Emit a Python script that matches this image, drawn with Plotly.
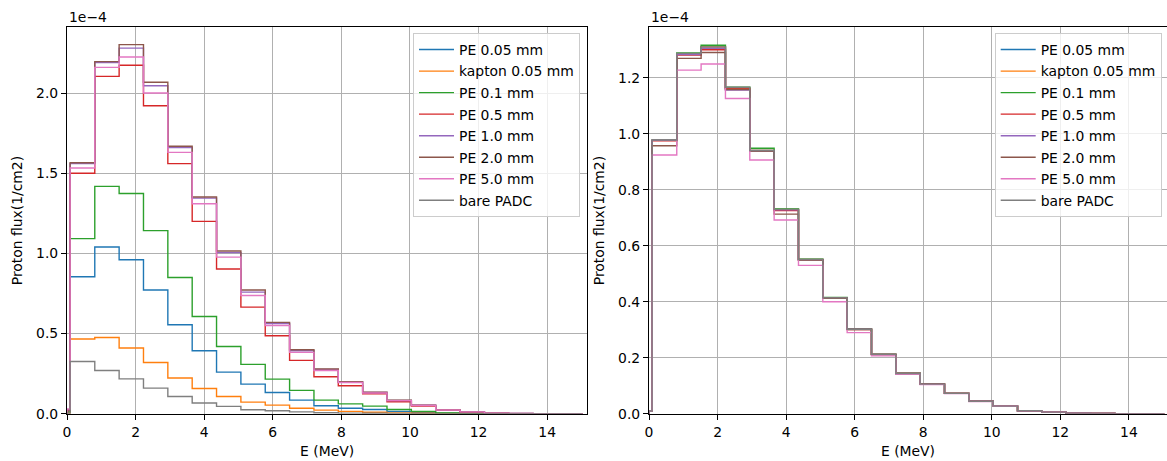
import plotly.graph_objects as go

# Energy bin edges (MeV) of the proton spectra
bin_edges = [0.0, 0.09, 0.81, 1.52, 2.23, 2.94, 3.65, 4.36, 5.07, 5.78, 6.49,
             7.20, 7.91, 8.62, 9.33, 10.04, 10.75, 11.46, 12.17, 12.88, 13.59,
             14.30, 15.01]

labels = ["PE 0.05 mm", "kapton 0.05 mm", "PE 0.1 mm", "PE 0.5 mm",
          "PE 1.0 mm", "PE 2.0 mm", "PE 5.0 mm", "bare PADC"]
colors = ["#1f77b4", "#ff7f0e", "#2ca02c", "#d62728",
          "#9467bd", "#8c564b", "#e377c2", "#7f7f7f"]

# Proton flux per bin, in units of 1e-4 /cm2 -- left panel
left_pe005 = [0.010, 0.855, 1.040, 0.961, 0.772, 0.555, 0.393, 0.260, 0.185, 0.133, 0.085,
              0.050, 0.035, 0.027, 0.015, 0.008, 0.004, 0.002, 0.001, 0.0005, 0.0002, 0.0001]
left_kapton = [0.005, 0.466, 0.476, 0.410, 0.320, 0.223, 0.158, 0.108, 0.073, 0.054, 0.035,
               0.023, 0.015, 0.010, 0.006, 0.003, 0.0015, 0.0008, 0.0004, 0.0002, 0.0001, 0.0]
left_pe01 = [0.012, 1.092, 1.418, 1.374, 1.142, 0.850, 0.607, 0.420, 0.308, 0.216, 0.146,
             0.085, 0.062, 0.048, 0.027, 0.015, 0.006, 0.003, 0.001, 0.0005, 0.0002, 0.0001]
left_pe05 = [0.020, 1.500, 2.104, 2.173, 1.921, 1.560, 1.200, 0.903, 0.665, 0.487, 0.333,
             0.231, 0.175, 0.125, 0.075, 0.048, 0.022, 0.010, 0.003, 0.001, 0.0005, 0.0002]
left_pe10 = [0.025, 1.560, 2.190, 2.280, 2.046, 1.660, 1.345, 1.005, 0.759, 0.562, 0.393,
             0.276, 0.197, 0.133, 0.083, 0.053, 0.025, 0.012, 0.004, 0.0015, 0.0005, 0.0002]
left_pe20 = [0.025, 1.565, 2.196, 2.302, 2.067, 1.668, 1.352, 1.015, 0.772, 0.570, 0.399,
             0.279, 0.200, 0.135, 0.085, 0.054, 0.025, 0.012, 0.004, 0.0015, 0.0005, 0.0002]
left_pe50 = [0.030, 1.533, 2.160, 2.225, 2.000, 1.630, 1.310, 0.977, 0.738, 0.551, 0.383,
             0.270, 0.195, 0.130, 0.082, 0.052, 0.024, 0.012, 0.004, 0.0015, 0.0005, 0.0002]
left_bare = [0.003, 0.326, 0.270, 0.218, 0.160, 0.108, 0.067, 0.046, 0.025, 0.019, 0.012,
             0.007, 0.004, 0.003, 0.002, 0.001, 0.0005, 0.0002, 0.0001, 0.0, 0.0, 0.0]

# Proton flux per bin, in units of 1e-4 /cm2 -- right panel
right_pe005 = [0.010, 0.977, 1.285, 1.310, 1.163, 0.940, 0.730, 0.551, 0.414, 0.302, 0.212,
               0.144, 0.106, 0.073, 0.045, 0.0275, 0.011, 0.006, 0.002, 0.001, 0.0005, 0.0002]
right_kapton = [0.010, 0.977, 1.285, 1.310, 1.163, 0.940, 0.730, 0.551, 0.414, 0.302, 0.212,
                0.144, 0.106, 0.073, 0.045, 0.0275, 0.011, 0.006, 0.002, 0.001, 0.0005, 0.0002]
right_pe01 = [0.010, 0.977, 1.288, 1.316, 1.166, 0.948, 0.731, 0.552, 0.415, 0.303, 0.213,
              0.145, 0.106, 0.073, 0.045, 0.0275, 0.011, 0.006, 0.002, 0.001, 0.0005, 0.0002]
right_pe05 = [0.010, 0.975, 1.281, 1.300, 1.160, 0.939, 0.726, 0.550, 0.413, 0.301, 0.212,
              0.144, 0.106, 0.073, 0.045, 0.0275, 0.011, 0.006, 0.002, 0.001, 0.0005, 0.0002]
right_pe10 = [0.010, 0.977, 1.283, 1.305, 1.156, 0.939, 0.728, 0.550, 0.413, 0.302, 0.212,
              0.144, 0.106, 0.073, 0.045, 0.0275, 0.011, 0.006, 0.002, 0.001, 0.0005, 0.0002]
right_pe20 = [0.010, 0.957, 1.269, 1.290, 1.158, 0.938, 0.713, 0.549, 0.412, 0.301, 0.211,
              0.144, 0.106, 0.073, 0.045, 0.0275, 0.011, 0.006, 0.002, 0.001, 0.0005, 0.0002]
right_pe50 = [0.010, 0.924, 1.227, 1.249, 1.126, 0.906, 0.692, 0.530, 0.400, 0.290, 0.207,
              0.141, 0.104, 0.072, 0.044, 0.027, 0.011, 0.006, 0.002, 0.001, 0.0005, 0.0002]
right_bare = [0.010, 0.977, 1.287, 1.310, 1.166, 0.940, 0.730, 0.551, 0.414, 0.302, 0.212,
              0.144, 0.106, 0.073, 0.045, 0.0275, 0.011, 0.006, 0.002, 0.001, 0.0005, 0.0002]

left_series = [left_pe005, left_kapton, left_pe01, left_pe05,
               left_pe10, left_pe20, left_pe50, left_bare]
right_series = [right_pe005, right_kapton, right_pe01, right_pe05,
                right_pe10, right_pe20, right_pe50, right_bare]

W, H = 1167, 461
FONT = "DejaVu Sans"
FS = 13.9


def step_xy(edges, values):
    # outline of a step histogram: rise at the first edge, drop at the last
    return [edges[0]] + list(edges), [0.0] + list(values) + [0.0]


fig = go.Figure()

for panel, series_set, xa, ya, leg in [
    ("L", left_series, "x", "y", "legend"),
    ("R", right_series, "x2", "y2", "legend2"),
]:
    for i, (name, col, vals) in enumerate(zip(labels, colors, series_set)):
        xs, ys = step_xy(bin_edges, vals)
        fig.add_trace(go.Scatter(
            x=xs, y=ys, mode="lines", name=name,
            line=dict(color=col, width=1.4, shape="hv"),
            xaxis=xa, yaxis=ya, legend=leg,
            legendgroup=f"{panel}{i}",
        ))

axis_common = dict(
    showgrid=True, gridcolor="#b0b0b0", gridwidth=1.1,
    zeroline=False, showline=True, linecolor="black", linewidth=1.1,
    ticks="outside", ticklen=5, tickwidth=1.1, tickcolor="black",
    tickfont=dict(family=FONT, size=FS, color="black"),
    automargin=False,
)

x_left = [67 / W, 587.3 / W]
x_right = [649 / W, 1.0]
y_dom = [(H - 413.8) / H, (H - 27.3) / H]

xticks = [0, 2, 4, 6, 8, 10, 12, 14]

fig.update_layout(
    width=W, height=H,
    margin=dict(l=0, r=0, t=0, b=0, autoexpand=False),
    paper_bgcolor="white", plot_bgcolor="white",
    font=dict(family=FONT, size=FS, color="black"),
    showlegend=True,
    xaxis=dict(domain=x_left, range=[0, 15.17], tickvals=xticks, mirror=True,
               anchor="y",
               title=dict(text="E (MeV)", standoff=7,
                          font=dict(family=FONT, size=FS, color="black")),
               **axis_common),
    yaxis=dict(domain=y_dom, range=[0, 2.41], dtick=0.5, tickformat=".1f",
               mirror=True, anchor="x",
               title=dict(text="Proton flux(1/cm2)", standoff=10,
                          font=dict(family=FONT, size=FS, color="black")),
               **axis_common),
    xaxis2=dict(domain=x_right, range=[0, 15.11], tickvals=xticks, mirror=True,
                anchor="y2",
                title=dict(text="E (MeV)", standoff=7,
                           font=dict(family=FONT, size=FS, color="black")),
                **axis_common),
    yaxis2=dict(domain=y_dom, range=[0, 1.38], dtick=0.2, tickformat=".1f",
                mirror=False, anchor="x2",
                title=dict(text="Proton flux(1/cm2)", standoff=10,
                           font=dict(family=FONT, size=FS, color="black")),
                **axis_common),
)

legend_common = dict(
    xanchor="right", yanchor="top", xref="paper", yref="paper",
    bgcolor="rgba(255,255,255,0.8)", bordercolor="#cccccc", borderwidth=1,
    font=dict(family=FONT, size=FS, color="black"),
    traceorder="grouped", tracegroupgap=0.47, itemwidth=35,
)
fig.update_layout(
    legend=dict(x=580 / W, y=(H - 33) / H, **legend_common),
    legend2=dict(x=1161.7 / W, y=(H - 33) / H, **legend_common),
)

# scale factor labels above each panel
for x0 in (67, 649):
    fig.add_annotation(
        x=x0 / W, y=(H - 17.3) / H, xref="paper", yref="paper",
        text="1e\u22124", showarrow=False, xanchor="left", yanchor="middle",
        font=dict(family=FONT, size=FS, color="black"),
    )

fig.write_html("out.html")
